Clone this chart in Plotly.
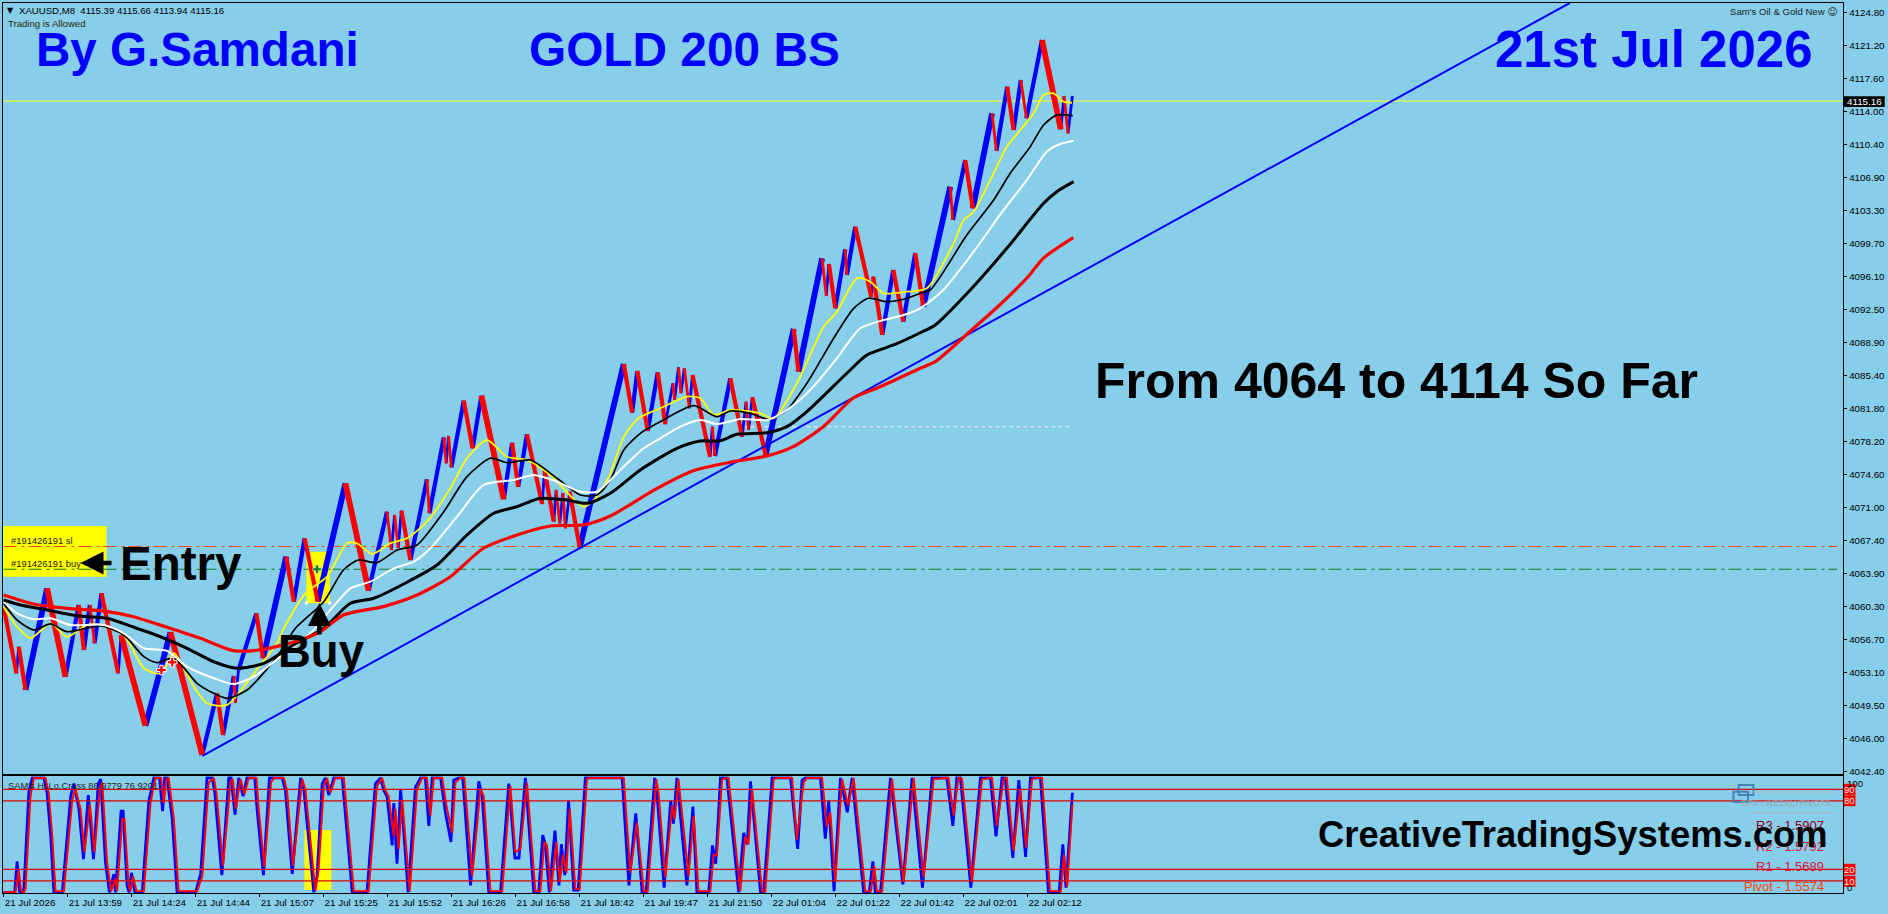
import plotly.graph_objects as go

# ---------- data ----------
y_ticks = [4124.80, 4121.20, 4117.60, 4114.00, 4110.40, 4106.90, 4103.30, 4099.70, 4096.10, 4092.50,
           4088.90, 4085.40, 4081.80, 4078.20, 4074.60, 4071.00, 4067.40, 4063.90, 4060.30, 4056.70,
           4053.10, 4049.50, 4046.00, 4042.40]
x_tick_bars = [0, 16, 32, 48, 64, 80, 96, 112, 128, 144, 160, 176, 192, 208, 224, 240, 256]
x_tick_labels = ["21 Jul 2026", "21 Jul 13:59", "21 Jul 14:24", "21 Jul 14:44", "21 Jul 15:07", "21 Jul 15:25",
                 "21 Jul 15:52", "21 Jul 16:26", "21 Jul 16:58", "21 Jul 18:42", "21 Jul 19:47", "21 Jul 21:50",
                 "22 Jul 01:04", "22 Jul 01:22", "22 Jul 01:42", "22 Jul 02:01", "22 Jul 02:12"]

price_bars = [0, 3.25, 3.8, 5.5, 10.9, 15.5, 18.8, 20.1, 21.6, 22.75, 24.5, 28.7, 29.4, 35.5, 41.75, 49.7, 53.4, 54.9,
              57.6, 58, 58.75, 63.25, 64.9, 70.7, 72.6, 75.3, 78.6, 85.5, 91.3, 95.9, 97, 97.8, 98.7, 99.5, 101.75,
              105.9, 106.5, 110.1, 110.7, 111.3, 112, 115.1, 117.3, 119.5, 125.1, 127.2, 128.7, 130.9, 134.7, 135.3,
              137.6, 138.2, 139.1, 139.9, 140.5, 141.6, 144.1, 155.1, 157.2, 158.5, 161.1, 163.6, 165.5, 167.4,
              167.8, 168.8, 169.4, 170.25, 171.5, 172.3, 176.7, 177.25, 177.9, 181.75, 184.7, 185.7, 186.3, 187.25,
              190.6, 197.6, 198.8, 204.7, 205.75, 206.4, 208, 210.5, 210.9, 213, 217, 217.5, 219.75, 222.5, 225,
              228, 230, 236.75, 237.4, 240.5, 242.4, 247.2, 248.3, 251, 252.6, 254.4, 255.8, 259.7, 264.4, 265.2,
              266.2, 267.3]
price_vals = [4060.27, 4053.03, 4055.92, 4051.22, 4062.26, 4052.66, 4060.45, 4055.56, 4060.45, 4056.29, 4061.72,
              4053.03, 4057.19, 4047.35, 4057.49, 4044.16, 4050.87, 4046.33, 4052.74, 4049.81, 4053.39, 4059.55,
              4054.66, 4065.70, 4060.81, 4067.69, 4060.81, 4073.66, 4062.00, 4070.58, 4066.42, 4070.22, 4066.64,
              4070.69, 4065.33, 4074.10, 4070.41, 4078.66, 4075.83, 4078.80, 4075.40, 4082.63, 4077.46, 4083.17,
              4071.93, 4078.07, 4073.29, 4078.98, 4071.41, 4075.11, 4069.49, 4072.94, 4069.32, 4072.61, 4068.78,
              4072.75, 4066.67, 4086.62, 4081.33, 4085.86, 4079.34, 4085.71, 4080.07, 4084.52, 4082.71, 4086.26,
              4083.44, 4086.15, 4081.81, 4085.42, 4076.55, 4079.81, 4076.63, 4085.06, 4078.72, 4082.52, 4079.45,
              4083.00, 4076.74, 4090.42, 4085.78, 4098.09, 4094.00, 4097.47, 4092.66, 4099.07, 4096.28, 4101.52,
              4093.92, 4096.09, 4089.77, 4096.82, 4091.21, 4098.67, 4092.84, 4105.86, 4102.25, 4108.76, 4103.52,
              4113.83, 4109.77, 4116.72, 4112.02, 4117.45, 4113.29, 4121.79, 4112.10, 4115.71, 4111.66, 4115.71]

red_ma_bars = [0, 7.5, 15.9, 24.25, 32.5, 40.9, 49.25, 57.5, 65, 74.25, 79.25, 85, 95, 103.4, 111.75, 120, 128.4,
               136.75, 145, 151.75, 163, 172.5, 182.5, 190.9, 197.5, 205, 212.5, 219.25, 229.25, 233, 242.1, 249.1,
               256.2, 260, 267.5]
red_ma_vals = [4061.53, 4060.56, 4060.09, 4059.83, 4059.18, 4058.03, 4056.83, 4055.49, 4055.64, 4056.65, 4057.55,
               4059.36, 4060.27, 4061.53, 4063.52, 4066.61, 4068.05, 4069.03, 4069.14, 4070.11, 4073.01, 4075.03,
               4076.01, 4076.63, 4077.64, 4079.81, 4082.92, 4084.15, 4086.15, 4086.87, 4090.31, 4093.02, 4096.09,
               4098.09, 4100.33]

black_ma_bars = [0, 4.25, 10.1, 18.4, 25.9, 32.6, 39.25, 45.9, 52.6, 58.4, 65.1, 72.5, 80.1, 86.75, 92.6, 100.9,
                 108.4, 115.9, 122.6, 128.4, 134.25, 140.9, 145.9, 151.75, 159.25, 168.4, 174.25, 179.25, 183.4,
                 190.9, 195.9, 200.9, 210.9, 215.9, 222.6, 229.25, 233, 241.75, 250.9, 260.1, 263.4, 267.6]
black_ma_vals = [4060.99, 4060.45, 4059.98, 4059.29, 4059.00, 4058.03, 4057.00, 4055.75, 4054.29, 4053.58, 4054.12,
                 4056.11, 4057.92, 4060.64, 4061.18, 4062.92, 4064.79, 4068.05, 4070.41, 4071.12, 4072.03, 4071.85,
                 4071.49, 4072.58, 4075.11, 4077.46, 4078.25, 4078.29, 4078.98, 4079.16, 4079.81, 4081.44, 4085.61,
                 4087.59, 4088.68, 4090.01, 4090.85, 4094.65, 4099.18, 4104.06, 4105.32, 4106.41]

white_ma_bars = [0, 3.4, 7.6, 11.75, 16.75, 25.1, 30.1, 35.1, 40.9, 45.9, 52.6, 57.6, 62.6, 69.25, 76.75, 81.75,
                 86.75, 91.75, 97.6, 102.6, 106.75, 113.4, 120.1, 127.6, 132.6, 138.4, 144.25, 148.4, 151.75, 154.25,
                 160.1, 164.25, 169.25, 174.25, 178.4, 184.25, 190.9, 195.9, 201.75, 208.4, 214.25, 220.1, 225.1,
                 229.25, 235, 242.6, 250.1, 255.9, 260.9, 264.25, 267.6]
white_ma_vals = [4060.81, 4059.55, 4058.90, 4059.00, 4058.28, 4058.28, 4057.38, 4055.75, 4055.46, 4053.75, 4052.49,
                 4051.87, 4052.66, 4054.84, 4057.38, 4059.91, 4062.26, 4062.98, 4064.43, 4065.15, 4066.61, 4070.04,
                 4073.48, 4074.02, 4074.56, 4073.84, 4072.75, 4072.75, 4074.02, 4075.11, 4077.46, 4078.55, 4079.81,
                 4080.54, 4080.10, 4080.64, 4080.54, 4081.62, 4083.79, 4087.23, 4090.49, 4091.39, 4091.93, 4092.66,
                 4094.65, 4098.81, 4103.34, 4106.59, 4109.67, 4110.50, 4110.86]

thin_ma_bars = [0, 3.4, 7.6, 11.75, 15.9, 24.25, 30.1, 35.1, 38.4, 42.6, 48.4, 51.75, 55.9, 60.9, 68.4, 73, 80.1, 85,
                88.75, 93.4, 98.4, 103.4, 110.1, 115.9, 121.75, 125.9, 131.75, 138.4, 144.25, 148.4, 151.75, 155.1,
                159.25, 164.25, 172.6, 178.4, 181.75, 186.75, 191.3, 195.9, 200.9, 207.6, 212.6, 216.3, 220.9, 225.1,
                229.25, 231.75, 240.9, 247.6, 251.75, 256.75, 260.1, 263.4, 267.4]
thin_ma_vals = [4060.64, 4058.82, 4057.74, 4058.39, 4057.55, 4058.17, 4057.19, 4054.84, 4054.19, 4054.66, 4051.95,
                4051.04, 4050.32, 4051.22, 4054.84, 4057.92, 4060.81, 4064.25, 4065.33, 4065.04, 4066.42, 4066.97,
                4070.58, 4074.38, 4076.38, 4075.90, 4076.19, 4074.21, 4072.39, 4072.39, 4074.02, 4077.28, 4079.09,
                4080.35, 4082.09, 4080.89, 4081.51, 4081.26, 4080.61, 4081.62, 4084.52, 4089.41, 4092.66, 4093.75,
                4093.38, 4093.64, 4094.29, 4094.65, 4100.62, 4104.42, 4107.32, 4110.21, 4112.56, 4113.65, 4113.57]

yellow_ma_bars = [0, 3.4, 6.75, 11.75, 15.9, 20.9, 24.25, 30.1, 35.1, 39.25, 42.6, 47.6, 50.9, 55.9, 62.6, 68.4, 70.1,
                  75.5, 80.9, 85.9, 88.4, 92.2, 96.75, 100.9, 105.9, 111.75, 115.9, 120.9, 125.9, 130.9, 136.75, 145.1,
                  148.4, 151.75, 155.1, 158.8, 164.25, 170.9, 174.25, 177.6, 181.75, 189.25, 192.6, 198.4, 205.1,
                  208.4, 213.4, 216.75, 220.1, 225.9, 230.9, 237.6, 240.1, 242.6, 247.6, 250.9, 254.25, 257.6, 260.1,
                  262.6, 265.1, 267.2]
yellow_ma_vals = [4060.27, 4058.09, 4056.83, 4058.46, 4057.00, 4058.28, 4058.28, 4057.19, 4053.58, 4053.03, 4055.21,
                  4051.58, 4049.78, 4049.60, 4053.03, 4056.29, 4057.92, 4061.72, 4063.52, 4067.15, 4067.15, 4065.99,
                  4067.15, 4067.69, 4069.49, 4073.12, 4076.38, 4078.36, 4076.55, 4076.19, 4074.56, 4071.12, 4072.21,
                  4074.75, 4078.72, 4080.72, 4081.81, 4083.07, 4082.89, 4081.08, 4081.62, 4081.26, 4080.72, 4084.52,
                  4090.67, 4092.29, 4095.92, 4095.55, 4094.29, 4094.47, 4094.83, 4099.72, 4102.25, 4103.15, 4107.32,
                  4110.21, 4112.02, 4113.83, 4115.82, 4116.00, 4115.09, 4114.98]

trend_bars = [49.75, 391.65]
trend_vals = [4044.06, 4125.81]
last_price = 4115.16
sl_price = 4066.80
buy_price = 4064.33
note_price = 4079.80
note_bars = [185, 267]
trade_bars = [39.5, 42.2]
trade_vals = [4053.39, 4054.23]
entry_bar = [78.4]
entry_val = [4064.33]

osc_red_bars = [0, 3.0, 3.8, 4.4, 5.1, 5.5, 6.75, 7.6, 10.5, 11.3, 12.2, 13, 15.1, 16.3, 17.2, 18, 19.25, 20.25, 21.6,
                22.75, 24.1, 24.7, 25.9, 26.9, 28, 28.4, 29.7, 30.25, 31.3, 31.75, 32.4, 33.25, 35.1, 36.75, 38, 39.4,
                40.1, 40.7, 41.3, 42.6, 43.8, 48.4, 49.7, 51.3, 52.6, 53.25, 54.9, 56.75, 57.3, 58.1, 59.25, 60.3,
                61.3, 63.25, 63.8, 65.25, 66.9, 67.6, 70.1, 70.9, 72.4, 74.7, 75.5, 78, 78.8, 80.1, 80.9, 81.75, 83,
                85.1, 86.3, 87.6, 91.3, 93.4, 94.7, 95.5, 96.3, 97.6, 98, 98.8, 99.7, 101.6, 103.4, 104.7, 105.9,
                106.75, 107.6, 109.7, 110.9, 112.2, 113, 114.25, 115.25, 117.2, 119.25, 120.1, 121.75, 124.7, 126.75,
                128, 129.25, 130.9, 133, 134.25, 135.25, 135.9, 136.9, 138.25, 139.1, 139.9, 140.75, 141.6, 143,
                144.1, 145.9, 146.75, 155.1, 156.75, 158.4, 160.1, 161.1, 163.25, 163.8, 165.5, 167.2, 167.8, 168.8,
                171.3, 172.6, 173.8, 176.75, 177.6, 178.4, 179.7, 181.3, 184.25, 185.5, 186.3, 187.2, 189.7, 190.5,
                192.6, 193.4, 197.2, 198.4, 200.1, 200.9, 204.7, 205.9, 206.75, 208, 209.7, 211.2, 212.6, 215.5,
                216.9, 217.75, 218.4, 219.7, 222.2, 225.1, 227.6, 230.1, 232.6, 236.3, 237.6, 238.8, 239.7, 242.2,
                244.7, 247.2, 248.4, 250.1, 250.9, 252.6, 254.25, 255.75, 257.2, 258.4, 259.7, 261.7, 264.4, 265.2,
                266, 267.3]
osc_red_vals = [0, 0, 19, 1, 0, 3, 84, 100, 100, 87, 49, 1, 1, 43, 81, 90, 73, 35, 77,
                35, 90, 96, 26, 1, 12, 1, 64, 64, 6, 1, 14, 1, 1, 78, 100, 100,
                78, 99, 100, 64, 1, 1, 14, 96, 100, 87, 23, 96, 99, 73, 99, 86,
                100, 100, 73, 22, 96, 100, 100, 89, 23, 99, 90, 1, 20, 93, 100, 87, 100,
                100, 52, 1, 1, 93, 100, 89, 84, 49, 73, 38, 81, 1, 90, 100, 100,
                67, 100, 100, 73, 52, 96, 100, 100, 14, 90, 84, 1, 1, 93,
                35, 38, 96, 1, 1, 44, 41, 1, 44, 9, 33, 17, 73, 3,
                3, 99, 100, 100, 17, 61, 1, 1, 99, 87, 13, 76, 64, 99,
                14, 67, 1, 1, 33, 32, 99, 100, 1, 49, 42, 90, 1, 1,
                99, 100, 100, 46, 96, 100, 100, 57, 70, 9, 99, 76, 100, 1,
                1, 23, 1, 1, 99, 9, 100, 13, 99, 100, 67, 100, 99, 9,
                99, 100, 58, 99, 100, 36, 90, 39, 99, 100, 100, 1, 1, 33,
                5, 77]

osc_blue_bars = [0, 2.8, 3.4, 4.0, 4.7, 5.1, 6.35, 7.2, 10.1, 10.9, 11.8, 12.6, 14.7, 15.9, 16.8, 17.6, 18.85, 20.0,
                 21.2, 22.5, 23.7, 24.3, 25.5, 26.5, 27.6, 28, 29.4, 29.9, 30.9, 31.4, 32, 32.85, 34.7, 36.35, 37.6,
                 39, 39.8, 40.3, 40.9, 42.2, 43.4, 48, 49.3, 50.9, 52.2, 52.85, 54.6, 56.35, 56.9, 57.9, 58.85, 59.9,
                 60.9, 62.85, 63.4, 65, 66.5, 67.2, 69.7, 70.5, 72.2, 74.3, 75.1, 77.6, 78.4, 79.7, 80.5, 81.35, 82.6,
                 84.7, 85.9, 87.2, 90.9, 93, 94.3, 95.1, 95.9, 97.2, 97.6, 98.4, 99.3, 101.2, 103, 104.3, 105.5,
                 106.35, 107.2, 109.3, 110.5, 111.9, 112.6, 113.85, 114.85, 116.8, 118.85, 119.7, 121.35, 124.3,
                 126.35, 127.9, 128.9, 130.5, 132.6, 133.85, 134.85, 135.5, 136.5, 137.9, 138.9, 139.5, 140.35, 141.3,
                 142.6, 143.7, 145.5, 146.35, 154.7, 156.4, 158.1, 159.7, 160.7, 162.85, 163.4, 165.2, 166.85, 167.5,
                 168.4, 170.9, 172.4, 173.4, 176.35, 177.3, 178.1, 179.3, 180.9, 183.85, 185.1, 186.0, 186.8, 189.3,
                 190.1, 192.2, 193, 196.8, 198.6, 199.7, 200.5, 204.3, 205.5, 206.35, 207.7, 209.3, 211, 212.2, 215.1,
                 216.5, 217.4, 218, 219.3, 221.8, 224.9, 227.2, 229.8, 232.2, 235.9, 237.4, 238.4, 239.3, 241.9,
                 244.3, 246.8, 248.2, 249.7, 250.5, 252.4, 253.9, 255.6, 256.8, 258, 259.3, 261.3, 264, 264.9, 265.7,
                 267.3]
osc_blue_vals = [0, 0, 27, 1, 0, 3, 88, 100, 100, 87, 49, 0, 0, 47, 84, 95, 73, 29,
                 85, 29, 95, 99, 26, 0, 16, 0, 71, 71, 6, 0, 17, 0, 0, 80, 100,
                 100, 71, 100, 100, 64, 0, 0, 16, 100, 100, 87, 15, 100, 100, 68, 100, 84,
                 100, 100, 73, 15, 100, 100, 100, 89, 16, 100, 90, 0, 14, 95, 100, 85, 100,
                 100, 52, 0, 0, 95, 100, 89, 84, 41, 78, 25, 90, 0, 92, 100, 100,
                 58, 100, 100, 70, 44, 98, 100, 100, 6, 97, 84, 0, 0,
                 95, 30, 30, 100, 0, 0, 50, 42, 0, 54, 6, 42, 15, 80,
                 2, 2, 100, 100, 100, 6, 69, 0, 0, 100, 87, 4, 80, 60,
                 100, 6, 75, 0, 0, 41, 25, 100, 100, 0, 52, 42, 97, 0,
                 0, 100, 100, 100, 38, 98, 100, 100, 47, 80, 1, 100, 70, 100, 0,
                 0, 27, 0, 0, 100, 7, 100, 4, 100, 100, 58, 100, 100, 4,
                 100, 100, 49, 100, 100, 30, 98, 31, 100, 100, 100, 0, 0, 42, 4,
                 87]

osc_levels = [90, 80, 20, 10]

# ---------- layout geometry (pixels in the page) ----------
W, H = 1888, 914
L, R, T, B = 2.5, 1843.0, 3.0, 893.0


def px(p):
    return (p - L) / (R - L)


def py(p):
    return (B - p) / (B - T)


fig = go.Figure()
SKY = "#87CEEB"


def line(x, y, color, width, axis=1, dash=None, smooth=False):
    style = dict(color=color, width=width, dash=dash)
    if smooth:
        style.update(shape="spline", smoothing=0.7)
    fig.add_trace(go.Scatter(x=x, y=y, mode="lines", line=style,
                             xaxis="x" if axis == 1 else "x2", yaxis="y" if axis == 1 else "y2",
                             hoverinfo="skip", showlegend=False, connectgaps=False))


# reference lines under the candles
right_edge = 460
line([-0.125, right_edge], [last_price, last_price], "#FFFF33", 1)
line([0, 458.5], [sl_price, sl_price], "#FF4500", 1.2, dash="13px,5px,3px,4px")
line([0, 458.5], [buy_price, buy_price], "#0B7D1E", 1.2, dash="13px,5px,3px,4px")
line(note_bars, [note_price, note_price], "#F2F2F2", 1, dash="4px,3px")

# candle zig-zag: blue up legs, red down legs
groups = {}
for i in range(len(price_bars) - 1):
    dy = price_vals[i + 1] - price_vals[i]
    color = "#0000FF" if dy > 0 else "#FF0000"
    size = abs(dy)
    width = 5.8 if size >= 9 else (4.2 if size >= 4.5 else 2.8)
    key = (color, width)
    g = groups.setdefault(key, ([], []))
    g[0].extend([price_bars[i], price_bars[i + 1], None])
    g[1].extend([price_vals[i], price_vals[i + 1], None])
for (color, width), (xs, ys) in sorted(groups.items(), key=lambda kv: kv[0][0]):
    line(xs, ys, color, width)

line(trend_bars, trend_vals, "#0000FF", 2)
line(yellow_ma_bars, yellow_ma_vals, "#FFFF00", 1.8, smooth=True)
line(thin_ma_bars, thin_ma_vals, "#000000", 1.7, smooth=True)
line(white_ma_bars, white_ma_vals, "#FFFFFF", 2, smooth=True)
line(black_ma_bars, black_ma_vals, "#000000", 3, smooth=True)
line(red_ma_bars, red_ma_vals, "#FF0000", 3.2, smooth=True)

fig.add_trace(go.Scatter(x=trade_bars, y=trade_vals, mode="markers", hoverinfo="skip", showlegend=False,
                         marker=dict(symbol="cross", size=8, color="#FF0000", line=dict(color="#FFFFFF", width=1))))
fig.add_trace(go.Scatter(x=entry_bar, y=entry_val, mode="markers", hoverinfo="skip", showlegend=False,
                         marker=dict(symbol="cross", size=7, color="#0B7D1E", line=dict(color="#FFFFFF", width=0.5))))

# oscillator panel
line(osc_blue_bars, osc_blue_vals, "#0000FF", 2.8, axis=2)
line(osc_red_bars, osc_red_vals, "#FF0000", 2, axis=2)
for lv in osc_levels:
    line([-0.125, right_edge], [lv, lv], "#E00000", 1.2, axis=2)

# ---------- shapes ----------
def rect(x0, y0, x1, y1, fill, layer="below", outline=None, lw=0):
    fig.add_shape(type="rect", xref="paper", yref="paper", x0=px(x0), x1=px(x1), y0=py(y0), y1=py(y1),
                  fillcolor=fill, line=dict(color=outline or fill, width=lw), layer=layer)


rect(2.5, 526, 106, 576.7, "#FFFF00")
rect(306, 551.7, 329.5, 603.3, "#FFFF00")
rect(304, 830, 331, 890, "#FFFF00")
rect(304.5, 601.5, 307.5, 604.5, "#FFFFFF", layer="above")
rect(328, 601.5, 331, 604.5, "#FFFFFF", layer="above")
rect(1738.6, 785, 1753.4, 795, "rgba(0,0,0,0)", layer="above", outline="#4682B4", lw=2)
rect(1733.4, 791.7, 1748, 802, "rgba(0,0,0,0)", layer="above", outline="#4682B4", lw=2)
for yy in (792, 813):
    fig.add_shape(type="line", xref="paper", yref="paper", x0=px(1752), x1=px(1832), y0=py(yy), y1=py(yy),
                  line=dict(color="#A9B4BB", width=1), layer="above")

# ---------- text ----------
SMALL = "Liberation Sans, Arial"
BOLD = "Liberation Sans, Arial"


def text(s, x, y, size, color="#000000", family=SMALL, anchor="left", bg=None):
    fig.add_annotation(text=s, xref="paper", yref="paper", x=px(x), y=py(y), xanchor=anchor, yanchor="middle",
                       showarrow=False, borderpad=0, bgcolor=bg, font=dict(family=family, size=size, color=color))


def block_arrow(x_tail, y_tail, x_head, y_head):
    fig.add_annotation(text="", xref="paper", yref="paper", axref="pixel", ayref="pixel",
                       x=px(x_head), y=py(y_head), ax=x_tail - x_head, ay=y_tail - y_head, showarrow=True,
                       arrowhead=2, arrowsize=1.0, arrowwidth=4.6, arrowcolor="#000000", standoff=0, startstandoff=0)


text("▼", 6, 10.5, 8, family="DejaVu Sans")
text("XAUUSD,M8&nbsp;&nbsp;4115.39 4115.66 4113.94 4115.16", 18, 10.7, 9.6)
text("Trading is Allowed", 7, 23.7, 9.6, color="#2B2B00")
text("Sam's Oil & Gold New <span style='font-family:DejaVu Sans'>☺</span>", 1837.5, 12, 9.6, anchor="right", color="#222222")

text("<b>By G.Samdani</b>", 35, 50, 47.6, "#0000FF", BOLD)
text("<b>GOLD 200 BS</b>", 528, 50, 47.8, "#0000FF", BOLD)
text("<b>21st Jul 2026</b>", 1493.5, 50, 51, "#0000FF", BOLD)
text("<b>From 4064 to 4114 So Far</b>", 1094, 381, 50, "#000000", BOLD)
text("<b>Entry</b>", 118.5, 563, 47.5, "#000000", BOLD)
text("<b>Buy</b>", 277, 651, 45.5, "#000000", BOLD)

text("#191426191 sl", 9.6, 540, 9.4, color="#222200")
text("#191426191 buy", 9.6, 563.7, 9.4, color="#222200")
block_arrow(112.5, 563, 80, 563)
block_arrow(319, 636, 319, 603)

text("SAM's Hi.Lo.Cross 86.9779 76.9201", 7, 785.6, 9.3, color="#222222")
text("iBFX - WEEKLYPIVOTS", 1832, 802.7, 8.4, color="#9AA6AE", anchor="right")
text("R3 - 1.5907", 1824.7, 825.7, 13, color="#8B0020", anchor="right")
text("R2 - 1.5792", 1824.7, 846.7, 13, color="#DC143C", anchor="right")
text("R1 - 1.5689", 1824.7, 866, 13, color="#DC143C", anchor="right")
text("Pivot - 1.5574", 1824.7, 886.7, 13, color="#FF4500", anchor="right")
text("<b>CreativeTradingSystems.com</b>", 1317, 834, 36.4, "#000000", BOLD)

# oscillator scale labels
text("100", 1846, 783, 9.6)
text("0", 1846, 887, 9.6)
for s, yy in (("90", 789.3), ("80", 800.7), ("20", 869.3), ("10", 881.3)):
    rect(1844, yy - 5.5, 1855.5, yy + 5.5, "#FF0000", layer="above")
    text(s, 1849.7, yy, 9.6, color="#F0E8E0", anchor="center")

# last price tag
rect(1844, 96.3, 1884.7, 107, "#000000", layer="above")
text("4115.16", 1864.3, 101.7, 9.8, color="#FFFFFF", anchor="center")

# ---------- axes ----------
axis_line = dict(showline=True, linecolor="#000000", linewidth=1.4, mirror=True, showgrid=False, zeroline=False)
fig.update_layout(
    width=W, height=H, autosize=False,
    margin=dict(l=L, r=W - R, t=T, b=H - B, pad=0),
    paper_bgcolor=SKY, plot_bgcolor=SKY, showlegend=False, hovermode=False,
    font=dict(family=SMALL, size=9.8, color="#000000"),
    xaxis=dict(domain=[0, 1], range=[-0.125, right_edge], anchor="y", showticklabels=False, ticks="", **axis_line),
    yaxis=dict(domain=[py(774), 1], range=[4042.1, 4125.81], anchor="x", side="right", tickvals=y_ticks,
               ticktext=["%.2f" % v for v in y_ticks], ticks="outside", ticklen=3, tickcolor="#000000", **axis_line),
    xaxis2=dict(domain=[0, 1], range=[-0.125, right_edge], anchor="y2", tickvals=x_tick_bars,
                ticktext=x_tick_labels, ticks="outside", ticklen=3, tickcolor="#000000",
                ticklabelposition="outside right", tickangle=0, **axis_line),
    yaxis2=dict(domain=[0, py(776.3)], range=[-0.6, 101.4], anchor="x2", side="right", showticklabels=False,
                ticks="", **axis_line),
)

fig.write_html("out.html", config=dict(displayModeBar=False),
               post_script="document.body.style.margin='0';document.body.style.overflow='hidden';")
